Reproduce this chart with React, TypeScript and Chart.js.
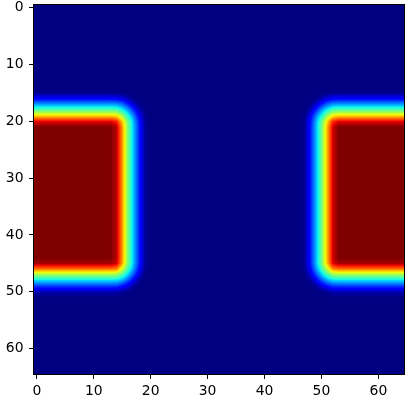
import React, { useEffect, useRef } from "react";
import { Chart, registerables } from "chart.js";

Chart.register(...registerables);

// ---- data ----
const gridCols = 65;
const gridRows = 65;
const xTickValues = [0, 10, 20, 30, 40, 50, 60];
const yTickValues = [0, 10, 20, 30, 40, 50, 60];

// saturated (value = 1) blocks, in cell coordinates
const blockColFrom = [-20, 52.6];
const blockColTo = [13.5, 84];
const blockRowFrom = [20.7, 20.7];
const blockRowTo = [44.7, 44.7];

// fall-off of the value with distance (cells) outside a block
const edgeDistance = [0, 0.5, 1, 1.5, 1.9, 2.5, 3.1, 3.7, 4.7, 5.5, 6];
const edgeValue = [1, 0.95, 0.85, 0.75, 0.625, 0.5, 0.375, 0.28, 0.12, 0.02, 0];

function edgeProfile(d: number): number {
  if (d <= edgeDistance[0]) return edgeValue[0];
  for (let i = 1; i < edgeDistance.length; i++) {
    if (d <= edgeDistance[i]) {
      const t = (d - edgeDistance[i - 1]) / (edgeDistance[i] - edgeDistance[i - 1]);
      return edgeValue[i - 1] + t * (edgeValue[i] - edgeValue[i - 1]);
    }
  }
  return edgeValue[edgeValue.length - 1];
}

function buildCells(): number[][] {
  const cells: number[][] = [];
  for (let r = 0; r < gridRows; r++) {
    const row: number[] = [];
    for (let c = 0; c < gridCols; c++) {
      let best = Infinity;
      for (let b = 0; b < blockColFrom.length; b++) {
        const dx = Math.max(blockColFrom[b] - c, 0, c - blockColTo[b]);
        const dy = Math.max(blockRowFrom[b] - r, 0, r - blockRowTo[b]);
        best = Math.min(best, Math.hypot(dx, dy));
      }
      row.push(edgeProfile(best));
    }
    cells.push(row);
  }
  return cells;
}

function interp(v: number, pts: number[][]): number {
  for (let i = 1; i < pts.length; i++) {
    if (v <= pts[i][0]) {
      const [x0, y0] = pts[i - 1];
      const [x1, y1] = pts[i];
      return y0 + ((v - x0) / (x1 - x0)) * (y1 - y0);
    }
  }
  return pts[pts.length - 1][1];
}
const jetR = [[0, 0], [0.35, 0], [0.66, 1], [0.89, 1], [1, 0.5]];
const jetG = [[0, 0], [0.125, 0], [0.375, 1], [0.64, 1], [0.91, 0], [1, 0]];
const jetB = [[0, 0.5], [0.11, 1], [0.34, 1], [0.65, 0], [1, 0]];
function jet(v: number): [number, number, number] {
  const t = Math.min(1, Math.max(0, v));
  return [interp(t, jetR) * 255, interp(t, jetG) * 255, interp(t, jetB) * 255];
}

function makeHeatmapPlugin(cells: number[][]) {
  return {
    id: "heatmap",
    beforeDatasetsDraw(chart: any) {
      const { ctx, chartArea, scales } = chart;
      const x0 = Math.round(chartArea.left);
      const y0 = Math.round(chartArea.top);
      const w = Math.round(chartArea.right) - x0;
      const h = Math.round(chartArea.bottom) - y0;
      const img = ctx.createImageData(w, h);
      const xs: number[] = [];
      for (let i = 0; i < w; i++) xs.push(scales.x.getValueForPixel(x0 + i + 0.5));
      for (let j = 0; j < h; j++) {
        const yv = Math.min(gridRows - 1, Math.max(0, scales.y.getValueForPixel(y0 + j + 0.5)));
        const r0 = Math.min(gridRows - 2, Math.floor(yv));
        const ty = yv - r0;
        for (let i = 0; i < w; i++) {
          const xv = Math.min(gridCols - 1, Math.max(0, xs[i]));
          const c0 = Math.min(gridCols - 2, Math.floor(xv));
          const tx = xv - c0;
          const v =
            cells[r0][c0] * (1 - tx) * (1 - ty) +
            cells[r0][c0 + 1] * tx * (1 - ty) +
            cells[r0 + 1][c0] * (1 - tx) * ty +
            cells[r0 + 1][c0 + 1] * tx * ty;
          const [r, g, b] = jet(v);
          const k = (j * w + i) * 4;
          img.data[k] = r;
          img.data[k + 1] = g;
          img.data[k + 2] = b;
          img.data[k + 3] = 255;
        }
      }
      ctx.putImageData(img, x0, y0);
    },
    afterDraw(chart: any) {
      const { ctx, chartArea } = chart;
      ctx.save();
      ctx.strokeStyle = "#000";
      ctx.lineWidth = 1;
      ctx.strokeRect(
        Math.round(chartArea.left) - 0.5,
        Math.round(chartArea.top) - 0.5,
        Math.round(chartArea.right) - Math.round(chartArea.left) + 1,
        Math.round(chartArea.bottom) - Math.round(chartArea.top) + 1
      );
      ctx.restore();
    },
  };
}

export default function App() {
  const ref = useRef<HTMLCanvasElement | null>(null);
  useEffect(() => {
    document.body.style.margin = "0";
    const cells = buildCells();
    const font = { family: "'DejaVu Sans', sans-serif", size: 13.9 };
    const chart = new Chart(ref.current as HTMLCanvasElement, {
      type: "scatter",
      data: { datasets: [{ data: [], pointRadius: 0 }] },
      options: {
        animation: false,
        responsive: false,
        layout: { padding: { top: 5, right: 9, left: 0, bottom: 0 } },
        plugins: { legend: { display: false }, tooltip: { enabled: false } },
        scales: {
          x: {
            type: "linear",
            min: -0.5,
            max: gridCols - 0.5,
            afterBuildTicks: (s: any) => {
              s.ticks = xTickValues.map((v) => ({ value: v }));
            },
            afterFit: (s: any) => {
              s.height = 26;
              s.paddingLeft = 0;
              s.paddingRight = 0;
            },
            ticks: { color: "#000", font, padding: 4, maxRotation: 0, callback: (v: any) => String(v) },
            grid: { drawOnChartArea: false, drawTicks: true, tickLength: 5, color: "#000", lineWidth: 1 },
            border: { display: false },
          },
          y: {
            type: "linear",
            reverse: true,
            min: -0.5,
            max: gridRows - 0.5,
            afterBuildTicks: (s: any) => {
              s.ticks = yTickValues.map((v) => ({ value: v }));
            },
            afterFit: (s: any) => {
              s.width = 34;
              s.paddingTop = 0;
              s.paddingBottom = 0;
            },
            ticks: { color: "#000", font, padding: 5.5, callback: (v: any) => String(v) },
            grid: { drawOnChartArea: false, drawTicks: true, tickLength: 5, color: "#000", lineWidth: 1 },
            border: { display: false },
          },
        },
      },
      plugins: [makeHeatmapPlugin(cells)],
    } as any);
    return () => chart.destroy();
  }, []);
  return (
    <div style={{ width: 413, height: 400 }}>
      <canvas ref={ref} width={413} height={400} style={{ width: 413, height: 400, display: "block" }} />
    </div>
  );
}
